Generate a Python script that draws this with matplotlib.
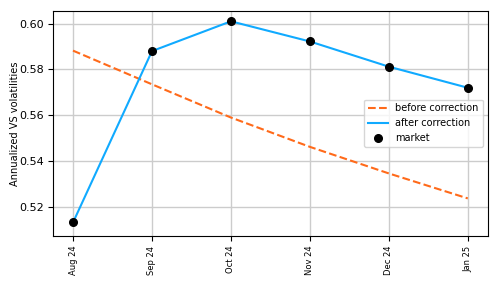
import matplotlib
matplotlib.use("Agg")
import matplotlib.pyplot as plt

# monthly expiries
months = ['Aug 24', 'Sep 24', 'Oct 24', 'Nov 24', 'Dec 24', 'Jan 25']

# volatilities
before_corr = [0.5882, 0.5735, 0.5590, 0.5462, 0.5346, 0.5237]
after_corr = [0.5132, 0.5880, 0.6010, 0.5922, 0.5812, 0.5720]
market = [0.5132, 0.5880, 0.6010, 0.5922, 0.5812, 0.5720]

fig, ax = plt.subplots(figsize=(4.98, 2.85), dpi=100)

x = range(len(months))
ax.plot(x, before_corr, '--', color='#ff6a1a', label='before correction')
ax.plot(x, after_corr, '-', color='#10aaff', label='after correction')
ax.plot(x, market, 'o', color='black', markersize=5.5, label='market')

ax.set_xticks(list(x))
ax.set_xticklabels(months, rotation=90, fontsize=6)
ax.tick_params(axis='y', labelsize=8)
ax.set_ylabel('Annualized VS volatilities', fontsize=7.1, labelpad=-1)
ax.set_ylim(0.5073, 0.6057)
ax.set_yticks([0.52, 0.54, 0.56, 0.58, 0.60])
ax.grid(True, color='#cccccc', linewidth=1)
ax.legend(loc='center right', fontsize=7)

plt.subplots_adjust(left=0.107, right=0.979, top=0.963, bottom=0.172)
plt.savefig('out.png', dpi=100)
